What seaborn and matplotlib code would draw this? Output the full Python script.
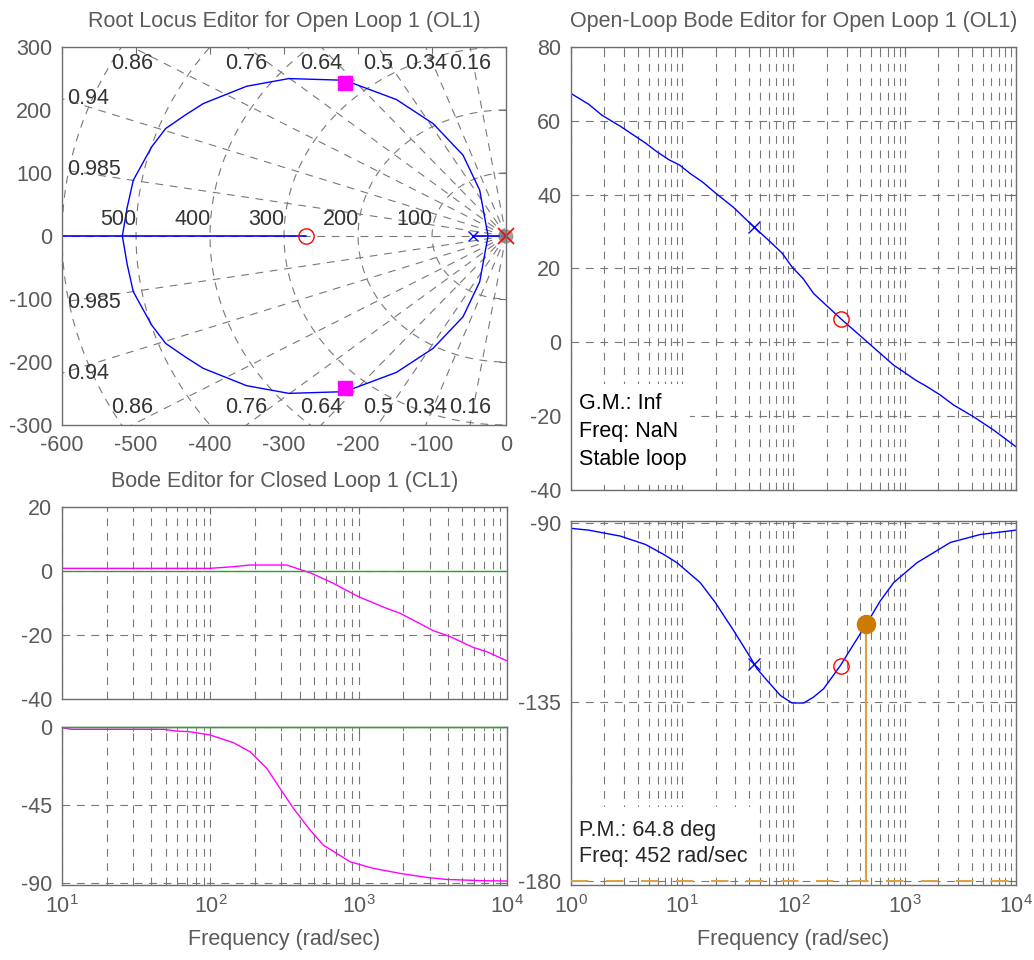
import numpy as np
import pandas as pd
import matplotlib
matplotlib.use("Agg")
import matplotlib.pyplot as plt
import seaborn as sns
from matplotlib.patches import Rectangle
from matplotlib.ticker import LogLocator, NullFormatter, FixedLocator

# ---- data ----
# root locus: upper half of the complex branch (lower half is its mirror)
locus_re = [-518.5, -512.0, -503.7, -478.9, -460.0, -433.9, -409.2, -350.6,
            -293.5, -217.9, -148.1, -98.6, -58.1, -35.6, -24.3]
locus_im = [0.0, 45.0, 88.5, 141.4, 170.5, 191.6, 210.1, 237.6,
            249.8, 247.1, 216.5, 178.4, 128.2, 72.7, 0.0]
real_branch_a = [-600, -270]
real_branch_b = [-45, 0]
ol_zero = -270
plant_pole = -45
comp_pole = 0
cl_pole_re = -218
cl_pole_im = 242
zetas = [0.16, 0.34, 0.5, 0.64, 0.76, 0.86, 0.94, 0.985]
wns = [100, 200, 300, 400, 500, 600]

# open-loop bode
ol_freq = [1, 1.44, 1.9, 2.78, 4.66, 5.93, 7.55, 9.48, 11.8, 15.1, 19.8, 29, 43.9,
           61.9, 78.8, 97, 121.7, 151.7, 263.7, 458, 795, 977, 1245, 1585, 2090,
           2753, 4170, 6310, 10000]
ol_mag = [67.4, 64.5, 61.5, 58.5, 54.0, 51.6, 49.5, 48.0, 45.7, 43.5, 40.5, 36.5, 31.3,
          27.2, 24.2, 20.4, 17.3, 13.2, 6.5, 0.15, -6.2, -8.0, -10.2, -12.0, -14.3,
          -17.0, -20.2, -23.8, -28.3]
ph_freq = [1, 1.44, 2.78, 4.66, 6.8, 8.97, 14.5, 19.8, 29, 40.9, 47, 57.8, 76.2, 97,
           123.4, 151.7, 186.7, 263.7, 347.5, 448.6, 603, 795, 1288, 2570, 4780, 10000]
ol_phase = [-91.25, -91.7, -93.2, -95.3, -97.8, -99.9, -104.9, -109.9, -117.0, -123.7,
            -126.6, -129.5, -133.3, -135.2, -135.2, -133.7, -131.6, -125.8, -120.4,
            -115.5, -109.5, -104.9, -99.9, -94.8, -92.8, -91.7]
pole_freq, pole_mag, pole_ph = 43.9, 31.3, -125.4
zero_freq, zero_mag, zero_ph = 267, 6.3, -125.8
pm_freq, pm_phase = 452, -115.2

# closed-loop bode
cl_freq = [10, 99.5, 143, 185, 327, 482, 675, 995, 1545, 1900, 3185, 4130, 5930, 7290, 10000]
cl_mag = [0.73, 0.73, 1.25, 1.77, 1.77, -0.83, -3.96, -8.1, -11.8, -13.3, -18.75,
          -20.6, -24.0, -25.3, -28.2]
clp_freq = [10, 11.6, 48.2, 59.3, 72.9, 99.5, 143, 185, 240, 295, 363, 470, 578, 875,
            1256, 1900, 2870, 3920, 6920, 10000]
cl_phase = [-0.6, -1.5, -1.5, -2.5, -2.9, -4.8, -9.2, -14.4, -24.0, -35.6, -47.1, -59.6,
            -68.3, -77.9, -81.7, -84.6, -86.9, -88.1, -88.8, -89.0]

sns.set_style("white")
plt.rcParams['font.family'] = ['Liberation Sans', 'DejaVu Sans']
plt.rcParams['mathtext.fontset'] = 'custom'
plt.rcParams['mathtext.rm'] = 'Liberation Sans'
plt.rcParams['axes.unicode_minus'] = False

FS = 15.5
FRAME = '#6e6e6e'
LABEL = '#5a5a5a'
GRID = '#787878'
DASH = (0, (7, 6))
BLUE = '#0000FF'
MAG = '#FF00FF'
ORANGE = '#CC7A00'

fig = plt.figure(figsize=(10.34, 9.6), dpi=100)
ax_rl = fig.add_axes([0.0600, 0.5573, 0.4294, 0.3938])
ax_olm = fig.add_axes([0.5522, 0.4896, 0.4304, 0.4615])
ax_olp = fig.add_axes([0.5522, 0.0781, 0.4304, 0.3792])
ax_clm = fig.add_axes([0.0600, 0.2722, 0.4304, 0.2000])
ax_clp = fig.add_axes([0.0600, 0.0781, 0.4304, 0.1649])


def style(ax):
    for s in ax.spines.values():
        s.set_color(FRAME)
        s.set_linewidth(1.0)
    ax.tick_params(which='major', direction='in', top=True, right=True, color=FRAME,
                   labelcolor=LABEL, labelsize=FS, length=5, width=0.8, pad=7)
    ax.tick_params(which='minor', direction='in', top=True, right=True, color=FRAME,
                   length=3, width=0.6)


def bode_axes(ax, xlo, xhi, ylo, yhi, yticks, show_x):
    ax.set_xscale('log')
    ax.set_xlim(xlo, xhi)
    ax.set_ylim(ylo, yhi)
    ax.xaxis.set_major_locator(LogLocator(base=10))
    ax.xaxis.set_minor_locator(LogLocator(base=10, subs=np.arange(2, 10)))
    ax.xaxis.set_minor_formatter(NullFormatter())
    ax.yaxis.set_major_locator(FixedLocator(yticks))
    ax.grid(True, which='both', axis='x', color=GRID, ls=DASH, lw=0.8)
    ax.grid(True, which='major', axis='y', color=GRID, ls=DASH, lw=0.8)
    style(ax)
    ax.set_xlabel('')
    ax.set_ylabel('')
    if show_x:
        ax.set_xlabel('Frequency (rad/sec)', fontsize=FS, color=LABEL, labelpad=8)
    else:
        ax.tick_params(labelbottom=False)


def text_panel(ax, x0, y0, w, h):
    # white backing behind the margin readouts, hides the grid there
    ax.add_patch(Rectangle((x0, y0), w, h, transform=ax.transAxes,
                           facecolor='white', edgecolor='none', zorder=1.8))


# ---- root locus ----
ax = ax_rl
ax.set_xlim(-600, 0)
ax.set_ylim(-300, 300)
far = 1000
for z in zetas:
    th = np.arccos(z)
    ax.plot([0, -far * np.cos(th)], [0, far * np.sin(th)], color=GRID, ls=DASH, lw=0.8)
    ax.plot([0, -far * np.cos(th)], [0, -far * np.sin(th)], color=GRID, ls=DASH, lw=0.8)
ax.plot([-far, 0], [0, 0], color=GRID, ls=DASH, lw=0.8)
t = np.linspace(np.pi / 2, 3 * np.pi / 2, 200)
for w in wns:
    ax.plot(w * np.cos(t), w * np.sin(t), color=GRID, ls=DASH, lw=0.8)
for z in [0.86, 0.76, 0.64, 0.5, 0.34, 0.16]:
    xz = -300 / np.tan(np.arccos(z))
    ax.text(xz, 273, f"{z:g}", ha='center', va='center', fontsize=FS, color='#333333')
    ax.text(xz, -273, f"{z:g}", ha='center', va='center', fontsize=FS, color='#333333')
for z in [0.94, 0.985]:
    yz = 600 * np.tan(np.arccos(z))
    ax.text(-593, yz, f"{z:g}", ha='left', va='center', fontsize=FS, color='#333333')
    ax.text(-593, -yz, f"{z:g}", ha='left', va='center', fontsize=FS, color='#333333')
for w in wns[:-1]:
    ax.text(-w + 1, 10, str(w), ha='right', va='bottom', fontsize=FS, color='#333333')

locus = pd.DataFrame({'re': locus_re, 'im': locus_im})
sns.lineplot(data=locus, x='re', y='im', ax=ax, color=BLUE, lw=1.0, sort=False, estimator=None)
sns.lineplot(x=locus['re'], y=-locus['im'], ax=ax, color=BLUE, lw=1.0, sort=False, estimator=None)
ax.plot(real_branch_a, [0, 0], color=BLUE, lw=1.2)
ax.plot(real_branch_b, [0, 0], color=BLUE, lw=1.2)
ax.plot(comp_pole, 0, 'o', color='#8c8c8c', ms=9, alpha=0.8, clip_on=False)
ax.plot(comp_pole, 0, 'x', color='red', ms=11, mew=1.2, clip_on=False)
ax.plot(plant_pole, 0, 'x', color=BLUE, ms=7, mew=1.0)
ax.plot(ol_zero, 0, 'o', mfc='none', mec='red', ms=11, mew=1.0)
ax.plot([cl_pole_re, cl_pole_re], [cl_pole_im, -cl_pole_im], 's', color=MAG, ms=9.5, ls='none')
ax.set_xticks(np.arange(-600, 1, 100))
ax.set_yticks(np.arange(-300, 301, 100))
ax.set_xlabel('')
ax.set_ylabel('')
style(ax)
ax.set_title('Root Locus Editor for Open Loop 1 (OL1)', fontsize=FS, color=LABEL, pad=14)

# ---- open-loop magnitude ----
ax = ax_olm
sns.lineplot(x=ol_freq, y=ol_mag, ax=ax, color=BLUE, lw=1.0, sort=False, estimator=None)
ax.plot(pole_freq, pole_mag, 'x', color=BLUE, ms=8, mew=1.0)
ax.plot(zero_freq, zero_mag, 'o', mfc='none', mec='red', ms=11, mew=1.0)
bode_axes(ax, 1, 1e4, -40, 80, [-40, -20, 0, 20, 40, 60, 80], False)
ax.set_title('Open-Loop Bode Editor for Open Loop 1 (OL1)', fontsize=FS, color=LABEL, pad=14)
text_panel(ax, 0.003, 0.012, 0.265, 0.228)
for yy, s in [(0.196, 'G.M.: Inf'), (0.131, 'Freq: NaN'), (0.068, 'Stable loop')]:
    ax.text(0.018, yy, s, transform=ax.transAxes, fontsize=FS, color='black', va='center',
            zorder=3)

# ---- open-loop phase ----
ax = ax_olp
sns.lineplot(x=ph_freq, y=ol_phase, ax=ax, color=BLUE, lw=1.0, sort=False, estimator=None)
ax.plot(pole_freq, pole_ph, 'x', color=BLUE, ms=8, mew=1.0)
ax.plot(zero_freq, zero_ph, 'o', mfc='none', mec='red', ms=11, mew=1.0)
text_panel(ax, 0.003, 0.025, 0.405, 0.19)
ax.axhline(-180, color='#E0A040', lw=1.4, ls=(0, (9, 9)), zorder=3)
ax.plot([pm_freq, pm_freq], [-180, pm_phase], color='#E0A040', lw=1.5)
ax.plot(pm_freq, pm_phase, 'o', color=ORANGE, ms=13)
bode_axes(ax, 1, 1e4, -181, -89.4, [-180, -135, -90], True)
ax.text(0.018, 0.151, 'P.M.: 64.8 deg', transform=ax.transAxes, fontsize=FS, va='center',
        zorder=3)
ax.text(0.018, 0.077, 'Freq: 452 rad/sec', transform=ax.transAxes, fontsize=FS, va='center',
        zorder=3)

# ---- closed-loop magnitude ----
ax = ax_clm
ax.axhline(0, color='#22AA22', lw=1.0, zorder=3)
sns.lineplot(x=cl_freq, y=cl_mag, ax=ax, color=MAG, lw=1.0, sort=False, estimator=None)
bode_axes(ax, 10, 1e4, -40, 20, [-40, -20, 0, 20], False)
ax.set_title('Bode Editor for Closed Loop 1 (CL1)', fontsize=FS, color=LABEL, pad=14)

# ---- closed-loop phase ----
ax = ax_clp
ax.axhline(0, color='#22AA22', lw=1.0, zorder=3, clip_on=False)
sns.lineplot(x=clp_freq, y=cl_phase, ax=ax, color=MAG, lw=1.0, sort=False, estimator=None)
bode_axes(ax, 10, 1e4, -91.3, 0, [-90, -45, 0], True)

plt.savefig("out.png", dpi=100)
